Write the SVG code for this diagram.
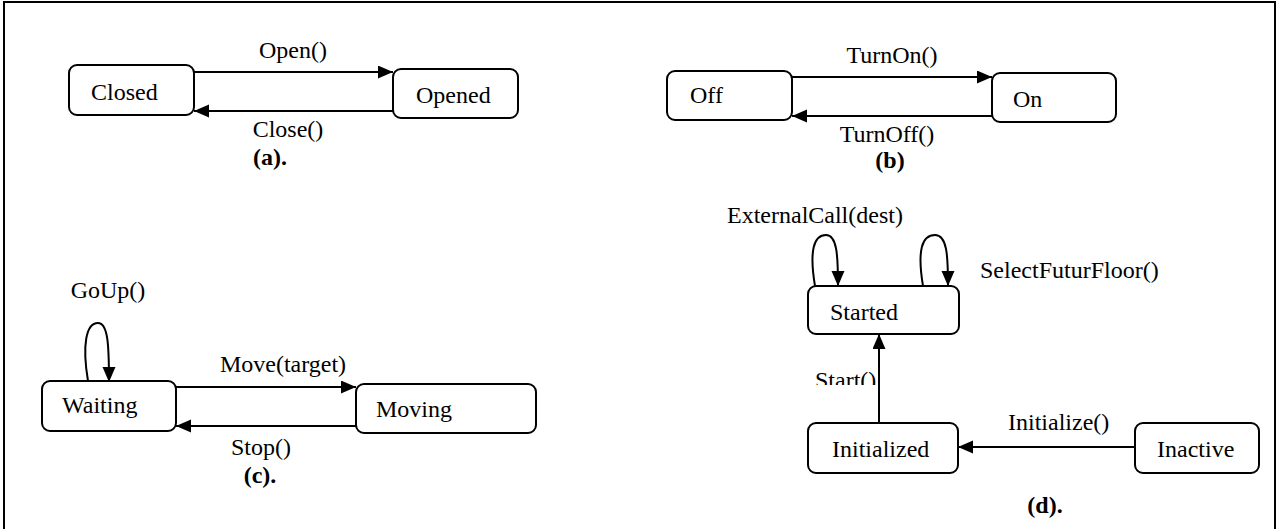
<svg xmlns="http://www.w3.org/2000/svg" width="1276" height="529" viewBox="0 0 1276 529">
  <style>
    .state { fill: #fff; stroke: #000; stroke-width: 2; }
    .edge { fill: none; stroke: #000; stroke-width: 2; marker-end: url(#arrow); }
    text { font-family: "Liberation Serif", "Times New Roman", serif; font-size: 24px; fill: #000; }
    .mid { text-anchor: middle; }
    .caption { font-weight: bold; text-anchor: middle; }
  </style>
  <defs>
    <marker id="arrow" markerUnits="userSpaceOnUse" markerWidth="16" markerHeight="14" refX="15" refY="6.5" orient="auto">
      <path d="M0,0 L15,6.5 L0,13 z" fill="#000"/>
    </marker>
    <clipPath id="startClip">
      <rect x="790" y="350" width="100" height="35"/>
    </clipPath>
  </defs>

  <rect x="4" y="2" width="1271" height="540" fill="#fff" stroke="#000" stroke-width="2"/>

  <!-- (a) door -->
  <g id="closed">
    <rect class="state" x="69" y="65" width="125" height="50" rx="8"/>
    <text x="91" y="100">Closed</text>
  </g>
  <g id="opened">
    <rect class="state" x="393" y="69" width="125" height="49" rx="8"/>
    <text x="416" y="103">Opened</text>
  </g>

  <!-- (b) power -->
  <g id="off">
    <rect class="state" x="667" y="71" width="125" height="49" rx="8"/>
    <text x="690" y="103">Off</text>
  </g>
  <g id="on">
    <rect class="state" x="992" y="73" width="124" height="49" rx="8"/>
    <text x="1013" y="107">On</text>
  </g>

  <!-- (c) cabin movement -->
  <g id="waiting">
    <rect class="state" x="42" y="381" width="134" height="50" rx="8"/>
    <text x="62" y="413">Waiting</text>
  </g>
  <g id="moving">
    <rect class="state" x="356" y="384" width="180" height="49" rx="8"/>
    <text x="376" y="417">Moving</text>
  </g>

  <!-- (d) controller lifecycle -->
  <g id="started">
    <rect class="state" x="808" y="286" width="151" height="48" rx="8"/>
    <text x="830" y="320">Started</text>
  </g>
  <g id="initialized">
    <rect class="state" x="808" y="423" width="150" height="50" rx="8"/>
    <text x="832" y="457">Initialized</text>
  </g>
  <g id="inactive">
    <rect class="state" x="1135" y="423" width="124" height="50" rx="8"/>
    <text x="1157" y="457">Inactive</text>
  </g>

  <g id="connectors">
    <path class="edge" d="M194,72 H393"/>
    <path class="edge" d="M393,111 H194"/>
    <path class="edge" d="M792,77 H992"/>
    <path class="edge" d="M992,116 H792"/>
    <path class="edge" d="M176,387 H356"/>
    <path class="edge" d="M356,426 H176"/>
    <path class="edge" d="M88,381 C82,345 86,323 98,323 C108,323 109,345 109,382"/>
    <path class="edge" d="M815,286 C809,250 814,235 826,235 C837,235 838,255 838,286"/>
    <path class="edge" d="M923,286 C917,250 922,235 935,235 C947,235 948,255 948,286"/>
    <path class="edge" d="M879,423 V334"/>
    <path class="edge" d="M1135,447 H958"/>
  </g>

  <g id="labels">
    <text class="mid" x="293" y="58">Open()</text>
    <text class="mid" x="288" y="137">Close()</text>
    <text class="caption" x="270" y="165">(a).</text>

    <text class="mid" x="892" y="63">TurnOn()</text>
    <text class="mid" x="887" y="142">TurnOff()</text>
    <text class="caption" x="890" y="168">(b)</text>

    <text class="mid" x="108" y="298">GoUp()</text>
    <text class="mid" x="283" y="372">Move(target)</text>
    <text class="mid" x="261" y="455">Stop()</text>
    <text class="caption" x="260" y="483">(c).</text>

    <text x="727" y="223">ExternalCall(dest)</text>
    <text x="980" y="278">SelectFuturFloor()</text>
    <text x="815" y="388" clip-path="url(#startClip)">Start()</text>
    <text x="1008" y="430">Initialize()</text>
    <text class="caption" x="1045" y="513">(d).</text>
  </g>
</svg>
